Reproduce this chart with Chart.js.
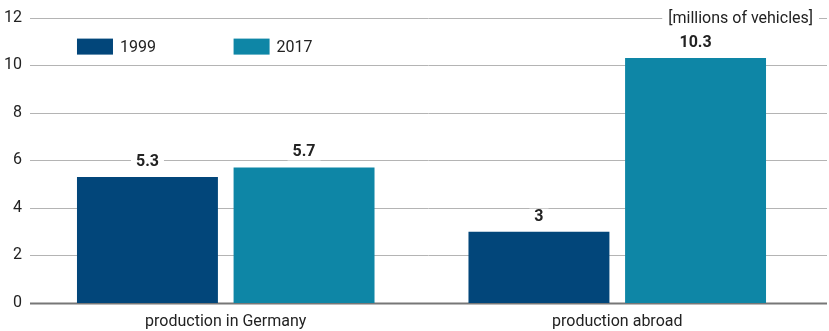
<!DOCTYPE html>
<html lang="en">
<head>
<meta charset="UTF-8">
<title>Vehicle production</title>
<style>
    body { margin: 0; background: #fff; }
    .wrap { width: 829px; height: 331px; }
</style>
</head>
<body>
<div class="wrap"><canvas id="chart" width="829" height="331"></canvas></div>
<script src="https://cdn.jsdelivr.net/npm/chart.js"></script>
<script>
    const categories = ['production in Germany', 'production abroad'];
    const years = ['1999', '2017'];
    const values1999 = [5.3, 3];
    const values2017 = [5.7, 10.3];
    const yTicks = [0, 2, 4, 6, 8, 10, 12];
    const unitLabel = '[millions of vehicles]';

    const colors = ['#02467a', '#0e86a6'];
    const FONT = 'Roboto, sans-serif';

    // grid lines that run past the plot area, the unit note and the data labels
    const decorations = {
        id: 'decorations',
        beforeDatasetsDraw(chart) {
            const ctx = chart.ctx;
            const y = chart.scales.y;
            const left = chart.chartArea.left;
            const right = chart.width - 2;
            ctx.save();
            yTicks.forEach(v => {
                const py = Math.round(y.getPixelForValue(v)) + 0.5;
                ctx.beginPath();
                if (v === 0) {
                    ctx.strokeStyle = '#777';
                    ctx.lineWidth = 2;
                } else {
                    ctx.strokeStyle = '#b4b4b4';
                    ctx.lineWidth = 1;
                }
                ctx.moveTo(left, py);
                ctx.lineTo(right, py);
                ctx.stroke();
            });
            // unit note sits on the top grid line
            ctx.font = '16px ' + FONT;
            ctx.textBaseline = 'middle';
            ctx.textAlign = 'right';
            const ty = y.getPixelForValue(12);
            const tw = ctx.measureText(unitLabel).width;
            const tx = right - 14;
            ctx.fillStyle = '#fff';
            ctx.fillRect(tx - tw - 6, ty - 9, tw + 12, 18);
            ctx.fillStyle = '#222';
            ctx.fillText(unitLabel, tx, ty + 1);
            ctx.restore();
        },
        afterDatasetsDraw(chart) {
            const ctx = chart.ctx;
            ctx.save();
            ctx.textBaseline = 'middle';
            chart.data.datasets.forEach((ds, i) => {
                const meta = chart.getDatasetMeta(i);
                ctx.font = 'bold 16px ' + FONT;
                ctx.textAlign = 'center';
                meta.data.forEach((bar, j) => {
                    const txt = String(ds.data[j]);
                    const w = ctx.measureText(txt).width;
                    const cy = bar.y - 15;
                    ctx.fillStyle = '#fff';
                    ctx.fillRect(bar.x - w / 2 - 5, cy - 8, w + 10, 16);
                    ctx.fillStyle = '#222';
                    ctx.fillText(txt, bar.x, cy);
                });
                // legend box lined up with the first bar of each series
                const first = meta.data[0];
                const bx = first.x - first.width / 2;
                const by = chart.chartArea.top + 29;
                ctx.fillStyle = colors[i];
                ctx.fillRect(bx, by - 8, 36, 16);
                ctx.fillStyle = '#222';
                ctx.font = '16px ' + FONT;
                ctx.textAlign = 'left';
                ctx.fillText(ds.label, bx + 43, by + 1);
            });
            ctx.restore();
        }
    };

    new Chart(document.getElementById('chart'), {
        type: 'bar',
        data: {
            labels: categories,
            datasets: [
                { label: years[0], data: values1999, backgroundColor: colors[0] },
                { label: years[1], data: values2017, backgroundColor: colors[1] }
            ]
        },
        options: {
            responsive: false,
            animation: false,
            layout: { padding: { top: 9, right: 16, bottom: 0, left: 0 } },
            plugins: {
                legend: { display: false },
                tooltip: { enabled: false }
            },
            scales: {
                x: {
                    grid: { display: false, drawTicks: false },
                    border: { display: false },
                    ticks: { color: '#222', font: { family: FONT, size: 16 }, padding: 9 },
                    afterFit(scale) { scale.height = 28; }
                },
                y: {
                    min: 0,
                    max: 12,
                    grid: { display: false, drawTicks: false },
                    border: { display: false },
                    ticks: {
                        stepSize: 2,
                        color: '#222',
                        font: { family: FONT, size: 16 },
                        padding: 8
                    },
                    afterFit(scale) { scale.width = 30; }
                }
            }
        },
        plugins: [decorations]
    });
</script>
</body>
</html>
